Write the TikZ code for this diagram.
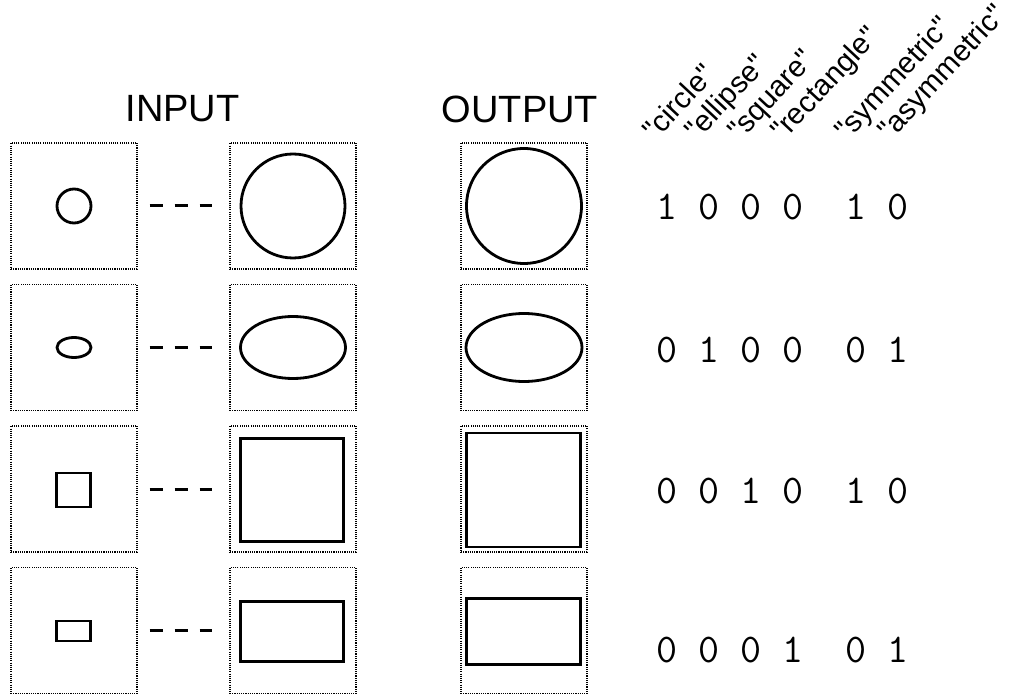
\documentclass[tikz,border=0pt]{standalone}
\usepackage{fontspec}
\setmainfont{Liberation Sans}
\usetikzlibrary{shapes.geometric}
\newcommand{\qq}[1]{\textquotedbl#1\textquotedbl}
\begin{document}
\begin{tikzpicture}[x=1pt,y=-1pt,
  frame/.style={draw, line width=1.1pt, dash pattern=on 1.1pt off 1.1pt, minimum size=126pt, inner sep=0pt},
  shp/.style={draw, line width=2.8pt, inner sep=0pt},
  rnd/.style={shp, circle, minimum size=#1},
  ovl/.style 2 args={shp, ellipse, minimum width=#1, minimum height=#2},
  box/.style 2 args={shp, rectangle, minimum width=#1, minimum height=#2},
  dashline/.style={line width=3pt, dash pattern=on 13pt off 12pt},
  title/.style={font=\fontsize{38}{44}\selectfont, inner sep=0pt},
  lab/.style={font=\fontsize{29.5}{34}\selectfont, rotate=47, anchor=base west, inner sep=0pt},
  digits/.style={font=\ttfamily\fontsize{40.8}{48}\selectfont, inner sep=0pt}
]
\fill[white] (0,0) rectangle (1010,695);
\useasboundingbox (0,0) rectangle (1010,695);

% titles
\node[title] (tin) at (182.5,109) {INPUT};
\node[title] (tout) at (520,109) {OUTPUT};

% rotated labels
\node[lab] (l1) at (655,142) {\qq{circle}};
\node[lab] (l2) at (697,142) {\qq{ellipse}};
\node[lab] (l3) at (740,142) {\qq{square}};
\node[lab] (l4) at (783,142) {\qq{rectangle}};
\node[lab] (l5) at (847,142) {\qq{symmetric}};
\node[lab] (l6) at (890,142) {\qq{asymmetric}};

% frames
\foreach \r/\y in {1/206,2/347.5,3/489,4/630.5}{
  \node[frame] (a\r) at (74,\y) {};
  \node[frame] (b\r) at (293,\y) {};
  \node[frame] (c\r) at (524,\y) {};
  \draw[dashline] ([xshift=12pt]a\r.east) -- ([xshift=-17pt]b\r.west);
}

% row 1: circle
\node[rnd=34pt] (s1) at (a1) {};
\node[rnd=104pt] (m1) at (b1) {};
\node[rnd=115pt] (o1) at (c1) {};
% row 2: ellipse
\node[ovl={34pt}{20pt}] (s2) at (a2) {};
\node[ovl={105pt}{62pt}] (m2) at (b2) {};
\node[ovl={116pt}{68pt}] (o2) at (c2) {};
% row 3: square
\node[box={34pt}{34pt}] (s3) at (73.5,490) {};
\node[box={103pt}{103pt}] (m3) at (292,490) {};
\node[box={114pt}{114pt}] (o3) at (523.5,490) {};
% row 4: rectangle
\node[box={34pt}{20pt}] (s4) at (73.5,631) {};
\node[box={103pt}{60pt}] (m4) at (292,631.5) {};
\node[box={114pt}{66pt}] (o4) at (523.5,631.5) {};

% codes
\node[digits] (d1) at (782.5,207) {1 0 0 0\ \ 1 0};
\node[digits] (d2) at (782.5,350) {0 1 0 0\ \ 0 1};
\node[digits] (d3) at (782.5,491) {0 0 1 0\ \ 1 0};
\node[digits] (d4) at (782.5,650) {0 0 0 1\ \ 0 1};
\end{tikzpicture}
\end{document}
